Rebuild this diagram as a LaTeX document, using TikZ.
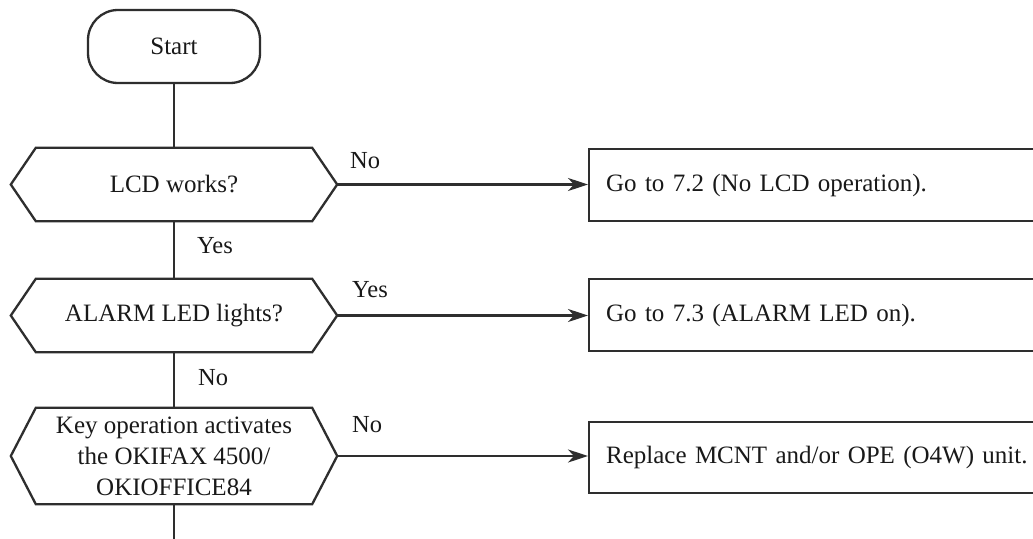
\documentclass[tikz,border=0pt]{standalone}
\usepackage{fontspec}
\setmainfont{Liberation Serif}
\usetikzlibrary{arrows.meta}
\definecolor{inkc}{gray}{0.18}
\newcommand\hexoutline[1]{%
  \draw[ln] ([xshift=25pt]#1.north west) -- ([xshift=-25pt]#1.north east) -- (#1.east)
    -- ([xshift=-25pt]#1.south east) -- ([xshift=25pt]#1.south west) -- (#1.west) -- cycle;}
\tikzset{
  ln/.style={line width=2.3pt, draw=inkc, line join=miter},
  arr/.style={ln, -{Stealth[length=20pt,width=13pt,inset=6pt]}},
  mainfont/.style={font=\fontsize{25}{31}\selectfont, text=black!90},
  startbox/.style={ln, draw, rectangle, rounded corners=30pt, minimum width=172pt,
    minimum height=73pt, inner sep=0pt, mainfont},
  hexnode/.style={minimum width=326pt, inner sep=0pt, align=center, mainfont},
  resultbox/.style={ln, draw, rectangle, anchor=west, minimum height=72pt,
    text width=470pt, align=left, inner xsep=17pt, inner ysep=0pt, mainfont},
  lab/.style={anchor=base west, inner sep=0pt, font=\fontsize{24.5}{30}\selectfont, text=black!90},
}
\begin{document}
\begin{tikzpicture}[x=1pt, y=-1pt]
\clip (0,0) rectangle (1033,538);
\fill[white] (0,0) rectangle (1033,538);

\node[startbox] (start) at (174,46.5) {Start};

\node[hexnode, minimum height=73pt] (h1) at (174,184.5) {LCD works?};
\hexoutline{h1}
\node[hexnode, minimum height=73pt] (h2) at (174,315.5) {ALARM LED lights?};
\hexoutline{h2}
\node[hexnode, minimum height=96pt] (h3) at (174,456) {Key operation activates\\the OKIFAX 4500/\\OKIOFFICE84};
\hexoutline{h3}

\node[resultbox] (r1) at (588,185) {Go to 7.2 (No LCD operation).};
\node[resultbox] (r2) at (588,315) {Go to 7.3 (ALARM LED on).};
\node[resultbox, minimum height=71pt] (r3) at (588,457.5) {Replace MCNT and/or OPE (O4W) unit.};

\coordinate (end) at (174,545);

\draw[ln] (start.south) -- (h1.north);
\draw[ln] (h1.south) -- (h2.north);
\draw[ln] (h2.south) -- (h3.north);
\draw[ln] (h3.south) -- (end);

\draw[arr] (h1.east) -- (h1.east -| r1.west);
\draw[arr] (h2.east) -- (h2.east -| r2.west);
\draw[arr] (h3.east) -- (h3.east -| r3.west);

\node[lab] (l1) at (197,253) {Yes};
\node[lab] (l2) at (198,385) {No};
\node[lab] (l3) at (350,168) {No};
\node[lab] (l4) at (352,297) {Yes};
\node[lab] (l5) at (352,432) {No};
\end{tikzpicture}
\end{document}
